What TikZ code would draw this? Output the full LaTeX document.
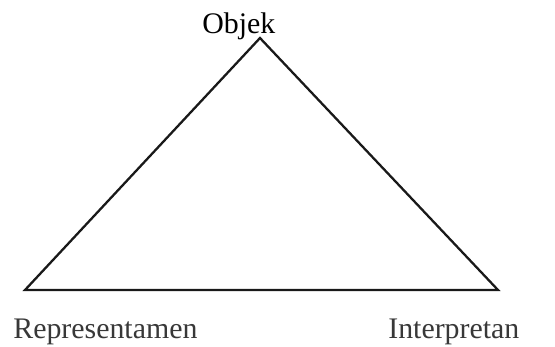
\documentclass[tikz,border=0pt]{standalone}
\usepackage{fontspec}
\setmainfont{Liberation Serif}
\usepackage{tikz}
\usetikzlibrary{positioning}
\tikzstyle{vertexname} = [inner sep=0pt, anchor=base west, font=\fontsize{17}{20}\selectfont, text=black!78]
\tikzstyle{edge}       = [line width=1.3pt, line join=miter, draw=black!90]

\begin{document}
\begin{tikzpicture}[x=0.02cm, y=-0.02cm]
    \useasboundingbox (0,0) rectangle (555,346);
    \coordinate (o) at (260,38);
    \coordinate (r) at ( 25,290);
    \coordinate (i) at (498,290);

    \node (obj) at (202, 33) [vertexname, text=black] {Objek};
    \node (rep) at ( 13,338) [vertexname] {Representamen};
    \node (int) at (388,338) [vertexname] {Interpretan};

    \draw [edge] (r) -- (o) -- (i) -- cycle;
\end{tikzpicture}
\end{document}
